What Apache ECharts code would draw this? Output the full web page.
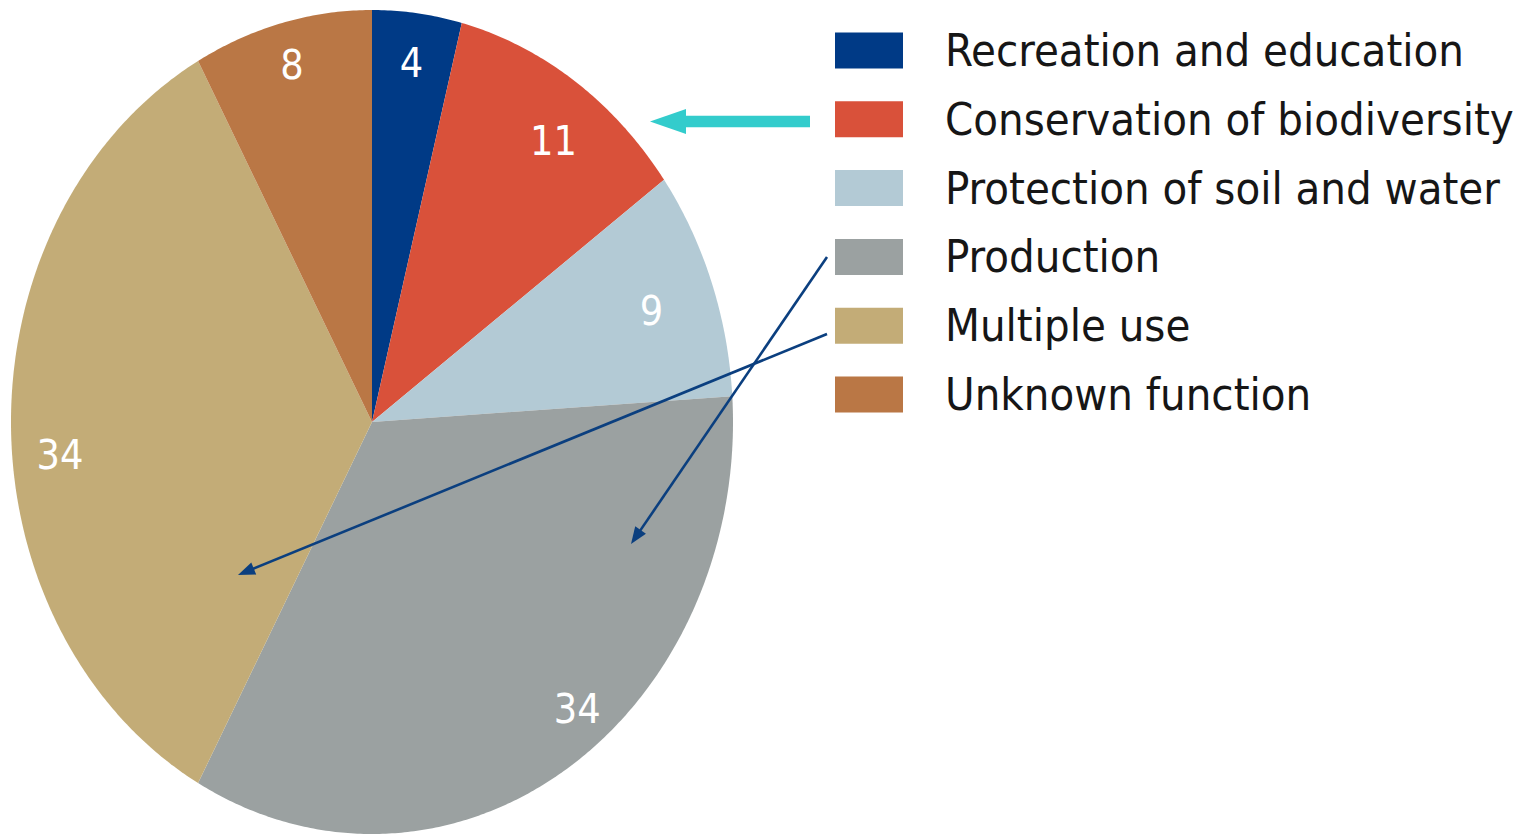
<!DOCTYPE html>
<html>
<head>
<meta charset="utf-8">
<script src="https://cdn.jsdelivr.net/npm/echarts@6/dist/echarts.min.js"></script>
<style>
html, body { margin: 0; padding: 0; background: #fff; overflow: hidden; }
#container { width: 1529px; height: 835px; }
</style>
</head>
<body>
<div id="container"></div>
<script>
var categories = ['Recreation and education', 'Conservation of biodiversity', 'Protection of soil and water', 'Production', 'Multiple use', 'Unknown function'];
var shares = [4, 11, 9, 34, 34, 8];
var colors = ['#003a86', '#d9513a', '#b3cad5', '#9ba1a1', '#c3ac77', '#ba7745'];

// the pie in the source is an ellipse (taller than wide)
var PIE = {cx: 372, cy: 422, rx: 361, ry: 412, labelAt: 0.87};
// hand nudges (px) so the value labels sit where the source put them
var labelNudge = [[0, -3], [5, 15], [-16, 10], [37, -16], [2, 33], [-2, -10]];

// annotation arrows, in pixels
var arrows = [
    {from: [810, 121.5], to: [650, 121.5], color: '#33cccc', width: 11.6, head: 36, half: 12.6},
    {from: [827, 257], to: [631, 544], color: '#0b3f7f', width: 2.6, head: 17, half: 6.5},
    {from: [827, 334], to: [238, 575], color: '#0b3f7f', width: 2.6, head: 17, half: 6.5}
];

var total = shares.reduce(function (s, v) { return s + v; }, 0);
var starts = [];
(function () {
    var acc = 0;
    for (let v of shares) { starts.push(acc); acc += v; }
})();

function ellipsePoint(deg, k)
{
    var a = deg * Math.PI / 180;
    return [PIE.cx + PIE.rx * k * Math.sin(a), PIE.cy - PIE.ry * k * Math.cos(a)];
}

function makeRenderItem(idx)
{
    return function (params, api) {
        var value = api.value(0);
        var a0 = starts[idx] / total * 360;
        var a1 = (starts[idx] + value) / total * 360;
        var pts = [[PIE.cx, PIE.cy]];
        var steps = Math.max(4, Math.ceil((a1 - a0) / 0.5));
        for (let s = 0; s <= steps; s++) {
            pts.push(ellipsePoint(a0 + (a1 - a0) * s / steps, 1));
        }
        var lp = ellipsePoint((a0 + a1) / 2, PIE.labelAt);
        return {
            type: 'group',
            children: [{
                type: 'polygon',
                shape: {points: pts},
                style: {fill: api.visual('color')}
            }, {
                type: 'text',
                x: lp[0] + labelNudge[idx][0],
                y: lp[1] + labelNudge[idx][1],
                style: {
                    text: String(value),
                    fill: '#ffffff',
                    fontFamily: "'DejaVu Sans Condensed', sans-serif",
                    fontSize: 41,
                    align: 'center',
                    verticalAlign: 'middle'
                }
            }]
        };
    };
}

function arrowGraphic(a)
{
    var x1 = a.from[0], y1 = a.from[1];
    var x2 = a.to[0], y2 = a.to[1];
    var dx = x2 - x1, dy = y2 - y1;
    var len = Math.sqrt(dx * dx + dy * dy);
    var ux = dx / len, uy = dy / len;
    var bx = x2 - ux * a.head, by = y2 - uy * a.head;
    return [{
        type: 'line',
        silent: true,
        z: 10,
        shape: {x1: x1, y1: y1, x2: bx + ux * 2, y2: by + uy * 2},
        style: {stroke: a.color, lineWidth: a.width}
    }, {
        type: 'polygon',
        silent: true,
        z: 10,
        shape: {points: [[x2, y2], [bx - uy * a.half, by + ux * a.half], [bx + uy * a.half, by - ux * a.half]]},
        style: {fill: a.color}
    }];
}

function getOption()
{
    var series = [];
    for (let i = 0; i < categories.length; i++) {
        series.push({
            type: 'custom',
            name: categories[i],
            coordinateSystem: 'none',
            silent: true,
            itemStyle: {color: colors[i]},
            renderItem: makeRenderItem(i),
            data: [shares[i]]
        });
    }
    var graphics = [];
    for (let a of arrows) {
        graphics = graphics.concat(arrowGraphic(a));
    }

    return {
        animation: false,
        legend: {
            data: categories,
            orient: 'vertical',
            left: 830,
            top: 23,
            icon: 'rect',
            itemWidth: 68,
            itemHeight: 36,
            itemGap: 23.8,
            selectedMode: false,
            textStyle: {
                fontFamily: 'DejaVu Sans Condensed',
                fontSize: 45,
                color: '#161616',
                lineHeight: 36,
                padding: [0, 0, 0, 37]
            }
        },
        series: series,
        graphic: graphics
    };
}

var myChart = echarts.init(document.getElementById('container'), null, {renderer: 'svg'});
myChart.setOption(getOption());
</script>
</body>
</html>
